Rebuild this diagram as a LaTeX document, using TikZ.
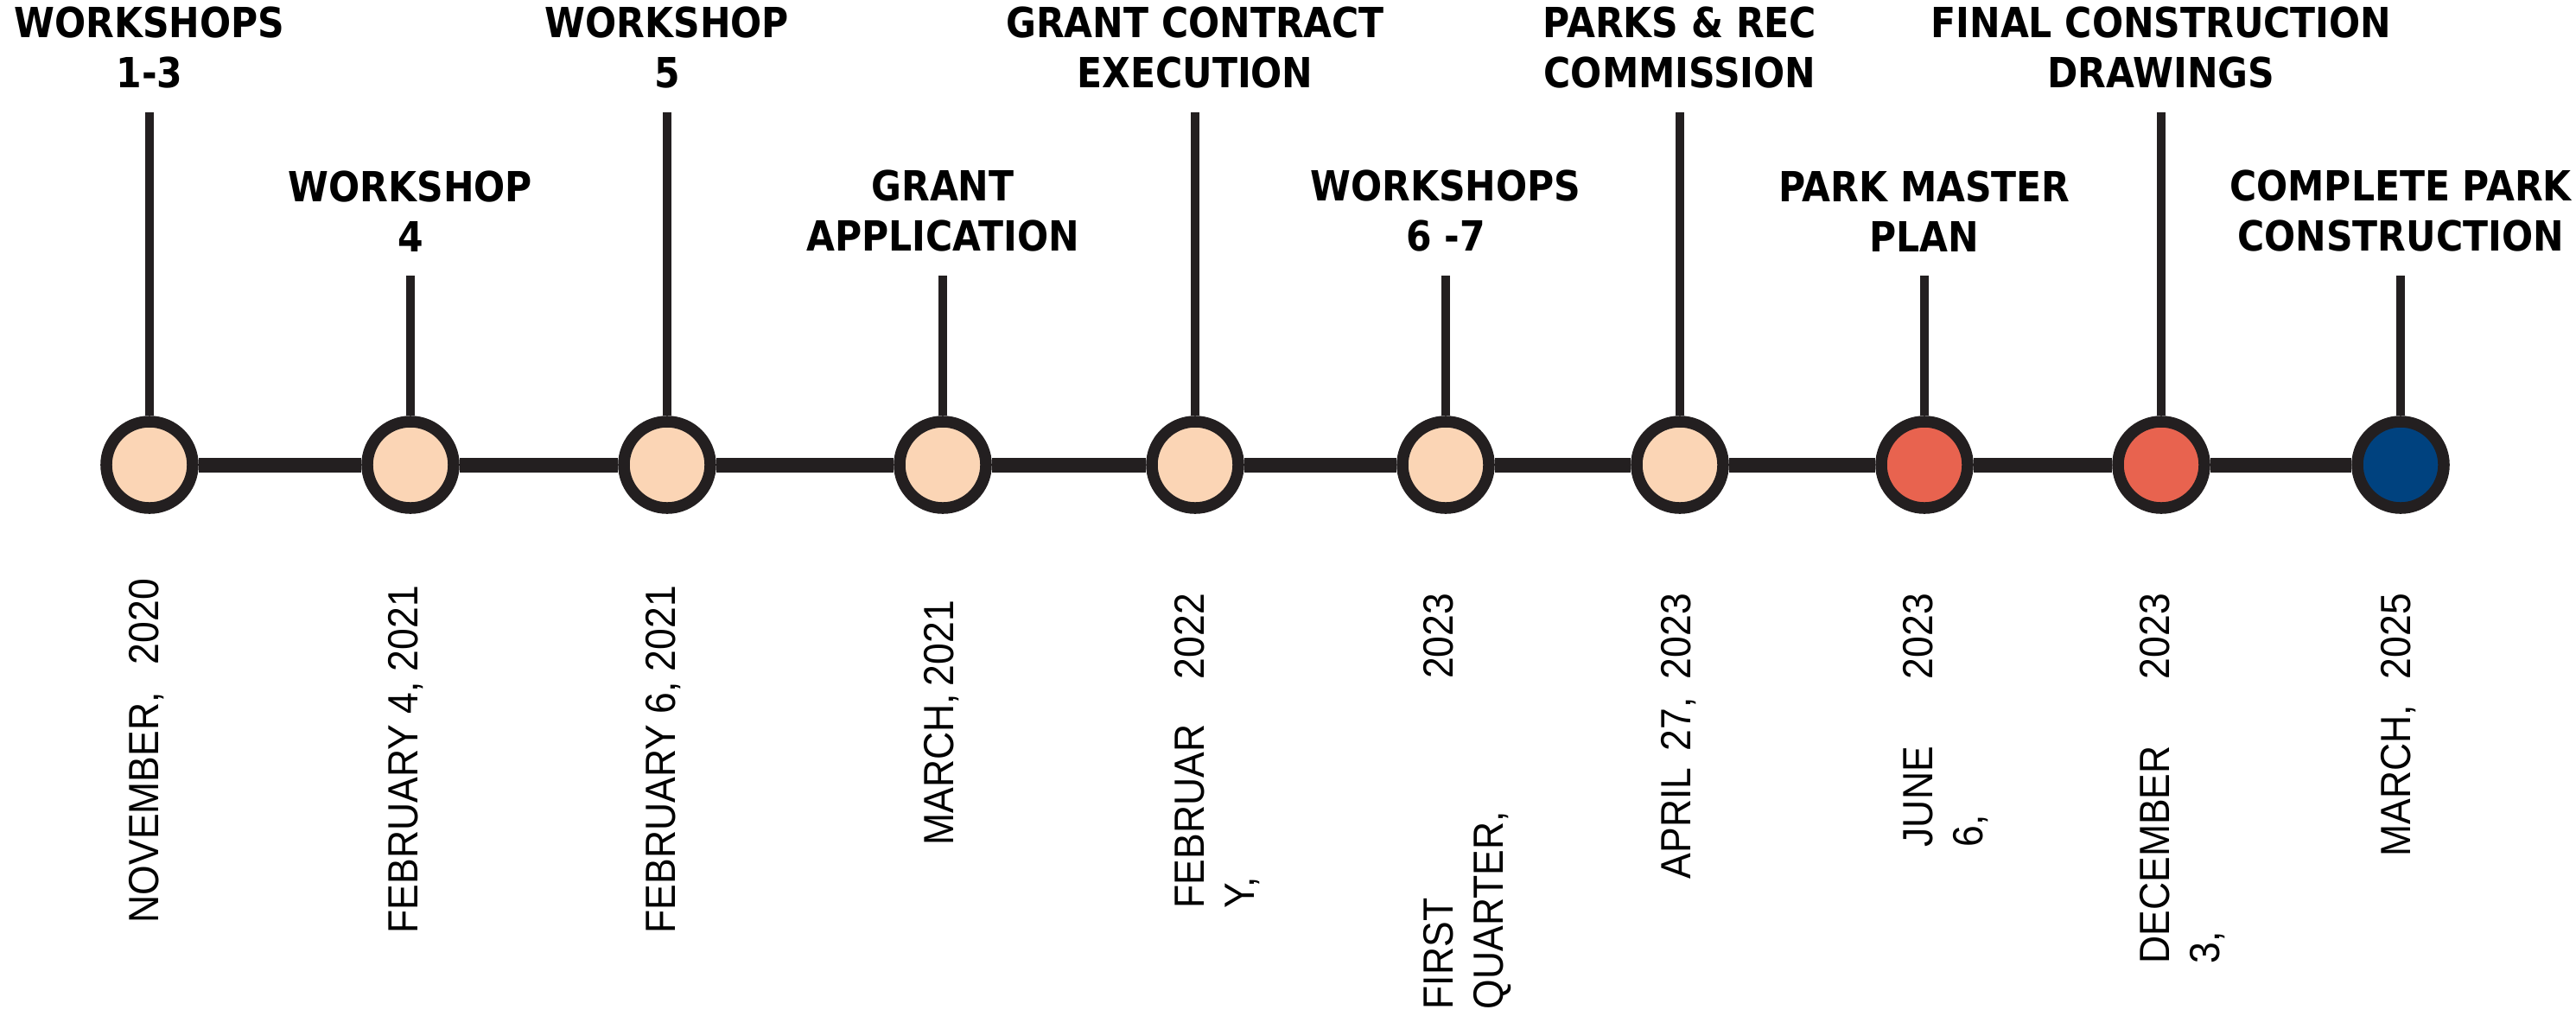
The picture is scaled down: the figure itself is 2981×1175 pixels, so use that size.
\documentclass[tikz,border=0pt]{standalone}
\usepackage{fontspec}
\usepackage{xcolor}
\usepackage{tikz}
\usetikzlibrary{positioning}
\newfontfamily\labelfont{DejaVu Sans}[FakeStretch=0.885]
\newfontfamily\datefont{Liberation Sans}[FakeStretch=0.91]
\definecolor{peach}{HTML}{FBD5B5}
\definecolor{coral}{HTML}{E8634F}
\definecolor{navy}{HTML}{00427F}
\definecolor{ink}{HTML}{231F20}
\tikzstyle{milestone} = [circle, draw=ink, line width=3.84pt, minimum size=1cm, inner sep=0pt]
\tikzstyle{stem} = [draw=ink, line width=2.85pt]
\tikzstyle{track} = [draw=ink, line width=4.84pt]
\tikzstyle{eventlabel} = [font=\labelfont\bfseries\fontsize{13.66pt}{16.5pt}\selectfont,
    align=center, inner sep=0pt]
\tikzstyle{datelabel} = [font=\datefont\fontsize{13.9pt}{16.5pt}\selectfont,
    align=left, rotate=90, anchor=north west, inner sep=0pt]

\begin{document}
\begin{tikzpicture}[x=0.01cm, y=-0.01cm]
    \useasboundingbox (0,0) rectangle (2981,1175);
    % Place milestones
    \node [milestone, fill=peach] (c1) at (173,538) {};
    \node [milestone, fill=peach] (c2) at (475,538) {};
    \node [milestone, fill=peach] (c3) at (772,538) {};
    \node [milestone, fill=peach] (c4) at (1091,538) {};
    \node [milestone, fill=peach] (c5) at (1383,538) {};
    \node [milestone, fill=peach] (c6) at (1673,538) {};
    \node [milestone, fill=peach] (c7) at (1944,538) {};
    \node [milestone, fill=coral] (c8) at (2227,538) {};
    \node [milestone, fill=coral] (c9) at (2501,538) {};
    \node [milestone, fill=navy] (c10) at (2778,538) {};
    % Stem tops
    \coordinate (t1) at (173,130);
    \coordinate (t2) at (475,319);
    \coordinate (t3) at (772,130);
    \coordinate (t4) at (1091,319);
    \coordinate (t5) at (1383,130);
    \coordinate (t6) at (1673,319);
    \coordinate (t7) at (1944,130);
    \coordinate (t8) at (2227,319);
    \coordinate (t9) at (2501,130);
    \coordinate (t10) at (2778,319);
    % Event labels
    \node [eventlabel, above=0.27cm of t1] (l1) {WORKSHOPS\\1-3};
    \node [eventlabel, above=0.27cm of t2] (l2) {WORKSHOP\\4};
    \node [eventlabel, above=0.27cm of t3] (l3) {WORKSHOP\\5};
    \node [eventlabel, above=0.27cm of t4] (l4) {GRANT\\APPLICATION};
    \node [eventlabel, above=0.27cm of t5] (l5) {GRANT CONTRACT\\EXECUTION};
    \node [eventlabel, above=0.27cm of t6] (l6) {WORKSHOPS\\6 -7};
    \node [eventlabel, above=0.27cm of t7] (l7) {PARKS \& REC\\COMMISSION};
    \node [eventlabel, above=0.27cm of t8] (l8) {PARK MASTER\\PLAN};
    \node [eventlabel, above=0.27cm of t9] (l9) {FINAL CONSTRUCTION\\DRAWINGS};
    \node [eventlabel, above=0.27cm of t10] (l10) {COMPLETE PARK\\CONSTRUCTION};
    % Dates
    \node [datelabel] (d1) at (149,1069) {\makebox[3.98cm][s]{NOVEMBER, 2020}};
    \node [datelabel] (d2) at (449,1081) {\makebox[4.02cm][s]{FEBRUARY 4, 2021}};
    \node [datelabel] (d3) at (747,1081) {\makebox[4.02cm][s]{FEBRUARY 6, 2021}};
    \node [datelabel] (d4) at (1069,979) {\makebox[2.83cm][s]{MARCH, 2021}};
    \node [datelabel] (d5) at (1359,1052) {\makebox[3.64cm][s]{FEBRUAR 2022}\\Y,};
    \node [datelabel] (d6) at (1647,1169) {\makebox[4.81cm][s]{FIRST 2023}\\QUARTER,};
    \node [datelabel] (d7) at (1922,1018) {\makebox[3.30cm][s]{APRIL 27, 2023}};
    \node [datelabel] (d8) at (2202,981) {\makebox[2.93cm][s]{JUNE 2023}\\6,};
    \node [datelabel] (d9) at (2476,1116) {\makebox[4.28cm][s]{DECEMBER 2023}\\3,};
    \node [datelabel] (d10) at (2755,992) {\makebox[3.04cm][s]{MARCH, 2025}};
    % Draw edges
    \foreach \a/\b in {c1/c2, c2/c3, c3/c4, c4/c5, c5/c6, c6/c7, c7/c8, c8/c9, c9/c10}
        \path [track] (\a) -- (\b);
    \foreach \i in {1,...,10}
        \path [stem] (t\i) -- (c\i);
\end{tikzpicture}
\end{document}
